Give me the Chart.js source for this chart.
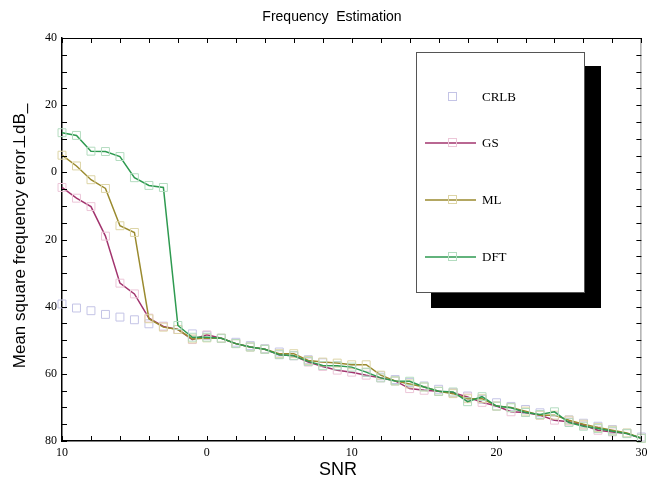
<!DOCTYPE html>
<html>
<head>
<meta charset="utf-8">
<script src="https://cdn.jsdelivr.net/npm/chart.js@4/dist/chart.umd.min.js"></script>
<style>
  body { margin: 0; background: #fff; }
  canvas { display: block; }
</style>
</head>
<body>
<canvas id="freqChart" width="648" height="484"></canvas>
<script>
const snr = [-10, -9, -8, -7, -6, -5, -4, -3, -2, -1, 0, 1, 2, 3, 4, 5, 6, 7, 8, 9, 10,
    11, 12, 13, 14, 15, 16, 17, 18, 19, 20, 21, 22, 23, 24, 25, 26, 27, 28, 29, 30];

const crlb = [-39.2, -40.4, -41.2, -42.3, -43.1, -43.9, -45.1, -45.8, -46.8, -48.1, -48.6,
    -49.5, -50.6, -51.6, -52.5, -53.5, -54.6, -55.8, -56.7, -57.6, -58.5,
    -59.6, -60.6, -61.7, -62.6, -63.6, -64.6, -65.7, -66.6, -67.6, -68.6,
    -69.7, -70.6, -71.6, -72.6, -73.7, -74.7, -75.6, -76.6, -77.7, -78.8];

const gs = [-4.5, -7.7, -10.2, -19.0, -33.0, -36.2, -43.4, -45.9, -46.8, -49.8, -48.4,
    -49.4, -51.0, -52.0, -52.7, -54.3, -54.6, -56.5, -57.8, -58.9, -59.5,
    -60.4, -61.2, -62.1, -64.4, -64.9, -65.2, -65.6, -66.9, -68.5, -69.6,
    -71.3, -71.5, -72.3, -73.8, -74.3, -75.3, -76.8, -77.3, -77.8, -79.2];

const ml = [5.1, 1.9, -2.2, -4.8, -15.9, -17.9, -43.6, -46.1, -46.8, -49.6, -49.3,
    -49.4, -51.0, -52.0, -52.7, -54.0, -54.0, -56.0, -56.5, -56.8, -57.3,
    -57.3, -60.4, -62.1, -63.0, -63.9, -65.2, -65.9, -67.4, -67.4, -69.6,
    -70.0, -71.1, -72.3, -72.3, -73.8, -75.0, -76.0, -76.8, -77.6, -79.2];

const dft = [11.8, 11.0, 6.3, 6.2, 4.7, -1.6, -3.9, -4.5, -45.6, -49.1, -49.1,
    -49.4, -51.0, -52.0, -52.7, -54.3, -54.6, -56.3, -57.5, -57.6, -58.0,
    -59.5, -61.2, -62.1, -62.2, -63.9, -65.2, -65.4, -68.3, -66.8, -69.6,
    -70.1, -71.5, -72.1, -71.3, -74.5, -75.6, -76.3, -77.1, -77.8, -79.2];

const seriesNames = ['CRLB', 'GS', 'ML', 'DFT'];
const chartTitle = 'Frequency  Estimation';
const xTitle = 'SNR';
const yTitle = 'Mean square frequency error\u22A5dB_';

const serifFont = "'Liberation Serif', 'Times New Roman', serif";
const sansFont = "'Liberation Sans Narrow', 'Liberation Sans', Arial, sans-serif";

function toPoints(values) {
    return snr.map((x, i) => ({ x: x, y: values[i] }));
}

// frame, inward ticks, titles and the boxed legend
const decorPlugin = {
    id: 'decor',
    afterDraw(chart) {
        const ctx = chart.ctx;
        const area = chart.chartArea;
        const xs = chart.scales.x;
        const ys = chart.scales.y;
        ctx.save();

        // top and right border
        ctx.lineWidth = 1;
        ctx.strokeStyle = '#000';
        ctx.beginPath();
        ctx.moveTo(area.left, area.top + 0.5);
        ctx.lineTo(area.right, area.top + 0.5);
        ctx.stroke();
        ctx.strokeStyle = '#888';
        ctx.beginPath();
        ctx.moveTo(area.right - 0.5, area.top);
        ctx.lineTo(area.right - 0.5, area.bottom);
        ctx.stroke();

        // ticks
        ctx.strokeStyle = '#000';
        ctx.beginPath();
        for (let v = -10; v <= 30; v += 2) {
            const px = Math.round(xs.getPixelForValue(v)) + 0.5;
            ctx.moveTo(px, area.bottom);
            ctx.lineTo(px, area.bottom - 5);
            ctx.moveTo(px, area.top);
            ctx.lineTo(px, area.top + 5);
        }
        for (let v = -80; v <= 40; v += 5) {
            const py = Math.round(ys.getPixelForValue(v)) + 0.5;
            ctx.moveTo(area.left, py);
            ctx.lineTo(area.left + 5, py);
            ctx.moveTo(area.right, py);
            ctx.lineTo(area.right - 5, py);
        }
        ctx.stroke();

        // titles
        ctx.fillStyle = '#000';
        ctx.textAlign = 'center';
        ctx.textBaseline = 'middle';
        ctx.font = '14px ' + sansFont;
        ctx.fillText(chartTitle, 332, 17);
        ctx.font = '18px ' + sansFont;
        ctx.fillText(xTitle, 338, 470);
        ctx.save();
        ctx.translate(20, 236);
        ctx.rotate(-Math.PI / 2);
        ctx.font = '17px ' + sansFont;
        ctx.fillText(yTitle, 0, 0);
        ctx.restore();

        // legend box with shadow
        ctx.fillStyle = '#000';
        ctx.fillRect(431, 66, 170, 242);
        ctx.fillStyle = '#fff';
        ctx.fillRect(416, 52, 169, 241);
        ctx.strokeStyle = '#555';
        ctx.strokeRect(416.5, 52.5, 168, 240);

        const rowY = [97, 143, 200, 257];
        chart.data.datasets.forEach((ds, i) => {
            const y = rowY[i];
            if (ds.showLine !== false) {
                ctx.strokeStyle = ds.borderColor;
                ctx.lineWidth = 1.5;
                ctx.beginPath();
                ctx.moveTo(425, y);
                ctx.lineTo(476, y);
                ctx.stroke();
            }
            ctx.strokeStyle = ds.pointBorderColor;
            ctx.lineWidth = 1;
            ctx.strokeRect(448.5, y - 4.5, 8, 8);
            ctx.fillStyle = '#000';
            ctx.textAlign = 'left';
            ctx.font = '13px ' + serifFont;
            ctx.fillText(ds.label, 482, y + 1);
        });
        ctx.restore();
    }
};

function absLabel(v) {
    return Math.abs(v);
}

new Chart(document.getElementById('freqChart'), {
    type: 'line',
    data: {
        datasets: [
            {
                label: seriesNames[0], data: toPoints(crlb), showLine: false,
                borderColor: '#c4c4e6', pointBorderColor: '#c4c4e6', order: 4, clip: false
            },
            {
                label: seriesNames[1], data: toPoints(gs),
                borderColor: '#a2346e', pointBorderColor: '#ecc6d8', order: 3, clip: false
            },
            {
                label: seriesNames[2], data: toPoints(ml),
                borderColor: '#9a8a2e', pointBorderColor: '#ddd5a6', order: 2, clip: false
            },
            {
                label: seriesNames[3], data: toPoints(dft),
                borderColor: '#2e9a50', pointBorderColor: '#b4dcc0', order: 1, clip: false
            }
        ]
    },
    options: {
        responsive: false,
        animation: false,
        layout: { padding: { top: 38, right: 5 } },
        elements: {
            line: { borderWidth: 1.5, tension: 0, fill: false },
            point: {
                pointStyle: 'rect', radius: 5.6, borderWidth: 1,
                backgroundColor: 'rgba(0,0,0,0)'
            }
        },
        plugins: {
            legend: { display: false },
            title: { display: false },
            tooltip: { enabled: false }
        },
        scales: {
            x: {
                type: 'linear', min: -10, max: 30,
                grid: { display: false, drawTicks: false },
                border: { color: '#000', width: 1.5 },
                ticks: {
                    stepSize: 10, callback: absLabel, color: '#000', padding: 5,
                    maxRotation: 0, font: { family: serifFont, size: 12 }
                },
                afterFit(scale) {
                    scale.height = 43;
                    scale.paddingLeft = 0;
                    scale.paddingRight = 0;
                }
            },
            y: {
                min: -80, max: 40,
                grid: { display: false, drawTicks: false },
                border: { color: '#000', width: 1.5 },
                ticks: {
                    stepSize: 20, callback: absLabel, color: '#000', padding: 5,
                    font: { family: serifFont, size: 12 }
                },
                afterFit(scale) {
                    scale.width = 62;
                    scale.paddingTop = 0;
                    scale.paddingBottom = 0;
                }
            }
        }
    },
    plugins: [decorPlugin]
});
</script>
</body>
</html>
